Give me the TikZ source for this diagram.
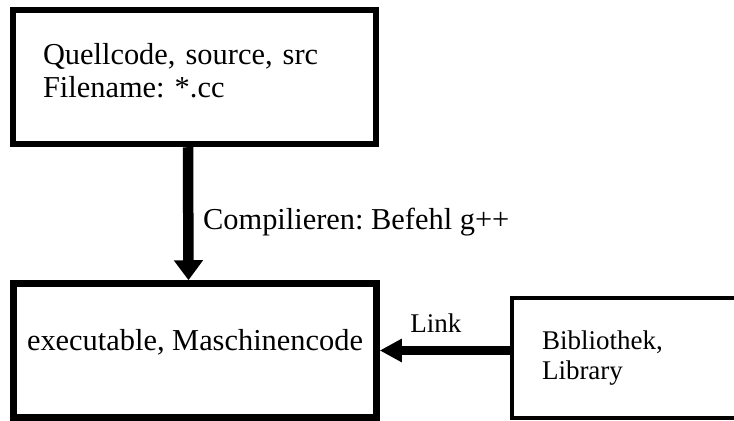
\documentclass[tikz,border=0pt]{standalone}
\usepackage{fontspec}
\setmainfont{Liberation Serif}
\usetikzlibrary{positioning, arrows.meta}
\frenchspacing

\begin{document}
\begin{tikzpicture}[x=0.5pt, y=-0.5pt,
    kasten/.style={draw, line width=3.25pt, inner sep=0pt, minimum width=181.5pt,
        minimum height=67pt, font=\fontsize{15.2pt}{16.5pt}\selectfont},
    pfeil/.style={-{Triangle[length=10pt, width=14pt]}, line width=5.25pt}]
    \useasboundingbox (0,0) rectangle (734,421);

    % 1. Quellcode oben
    \node[kasten, align=left, text width=151.5pt, text height=10pt, text depth=22pt]
        (src) at (194.5,77) {Quellcode, source, src\\Filename: *.cc};

    % 2. Maschinencode unten
    \node[kasten, text height=10pt, text depth=10pt] (exe) at (195,350.5)
        {executable, Maschinencode};

    % 3. Bibliothek rechts (rechter Rand liegt ausserhalb)
    \node[draw, line width=1.7pt, inner sep=0pt, minimum width=134pt, minimum height=60pt,
        align=left, text width=104pt, font=\fontsize{13.5pt}{15pt}\selectfont]
        (lib) at (646,358) {Bibliothek,\\Library};

    % 4. Pfeile mit Beschriftung
    \draw[pfeil] ([xshift=-3.25pt]src.south) -- ([xshift=-3.25pt]exe.north)
        node[midway, right=1.5pt, yshift=-4pt, font=\fontsize{15.2pt}{16.5pt}\selectfont]
        (comp) {Compilieren: Befehl g++};
    \draw[pfeil, line width=4.2pt, -{Triangle[length=11pt, width=11pt]}]
        (lib.west |- exe.east) -- (exe.east)
        node[pos=0.57, above=3.5pt, font=\fontsize{13.5pt}{15pt}\selectfont] (link) {Link};
\end{tikzpicture}
\end{document}
